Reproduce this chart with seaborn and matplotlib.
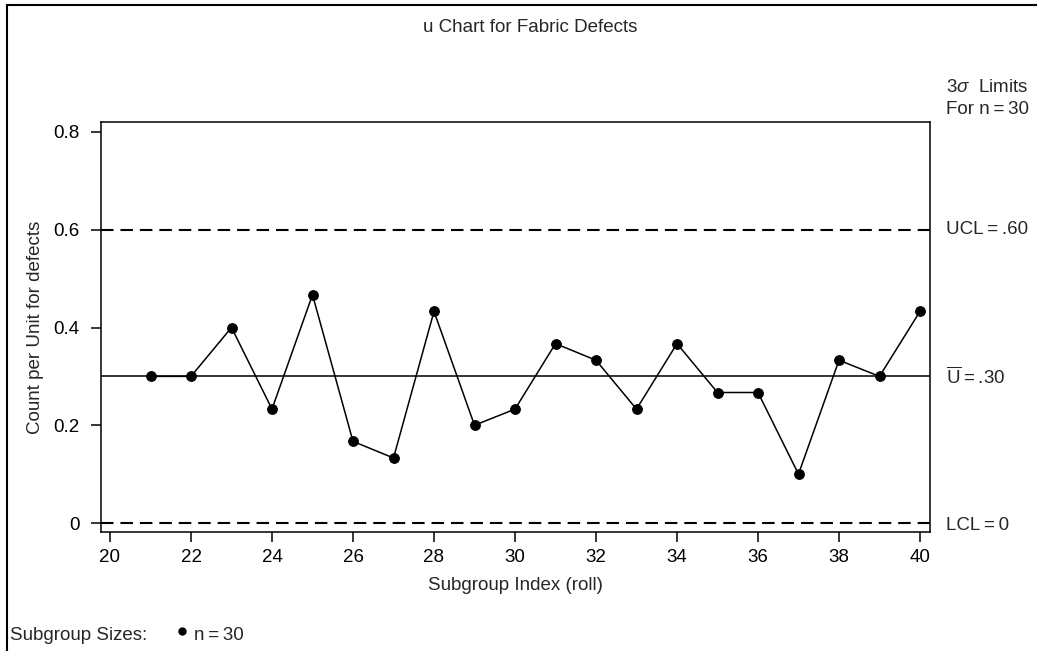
import matplotlib
matplotlib.use("Agg")
import matplotlib.pyplot as plt
from matplotlib.lines import Line2D
import seaborn as sns
import pandas as pd

# ---- data ----
subgroup = list(range(21, 41))
u_values = [0.300, 0.300, 0.400, 0.233, 0.467, 0.167, 0.133, 0.433, 0.200, 0.233,
            0.367, 0.333, 0.233, 0.367, 0.267, 0.267, 0.100, 0.333, 0.300, 0.433]
center = 0.30
ucl = 0.60
lcl = 0.0
x_ticks = list(range(20, 41, 2))
y_ticks = [0, 0.2, 0.4, 0.6, 0.8]
y_tick_labels = ["0", "0.2", "0.4", "0.6", "0.8"]

sns.set_style("ticks")
plt.rcParams['font.family'] = ['Liberation Sans', 'DejaVu Sans']
plt.rcParams['mathtext.fontset'] = 'custom'
plt.rcParams['mathtext.rm'] = 'Liberation Sans'
plt.rcParams['mathtext.it'] = 'Liberation Sans:italic'
plt.rcParams['lines.scale_dashes'] = False

W, H = 1037, 651
fig = plt.figure(figsize=(W / 100, H / 100), dpi=100)
ax = fig.add_axes([101 / W, 1 - 532 / H, (930 - 101) / W, (532 - 122) / H])

df = pd.DataFrame({"Subgroup": subgroup, "u": u_values})
sns.lineplot(data=df, x="Subgroup", y="u", ax=ax, color="black", lw=1.1,
             marker="o", markersize=7, markeredgecolor="black", zorder=3)

ax.axhline(center, color="black", lw=1.1, zorder=2)
for lim in (ucl, lcl):
    ax.axhline(lim, color="black", lw=1.5, ls=(0, (9, 5)), zorder=2)

ax.set_xlim(20 - 9 / 40.5, 40 + 10 / 40.5)
ax.set_ylim(-9 / 488.75, 0.8 + 10 / 488.75)
ax.set_xticks(x_ticks)
ax.set_yticks(y_ticks)
ax.set_yticklabels(y_tick_labels)
for s in ax.spines.values():
    s.set_visible(True)
    s.set_linewidth(1.1)
    s.set_color("black")
fs = 13.5
ax.tick_params(axis="both", direction="out", length=7.5, width=1.1, color="black",
               labelsize=fs, labelcolor="black")
ax.tick_params(axis="x", pad=5)
ax.tick_params(axis="y", pad=8)
ax.set_xlabel("")
ax.set_ylabel("")

th = "\u2009"
fig.text(530 / W, 1 - 27 / H, "u Chart for Fabric Defects", ha="center", va="center", fontsize=fs)
fig.text(515 / W, 1 - 585 / H, "Subgroup Index (roll)", ha="center", va="center", fontsize=fs)
fig.text(36 / W, 1 - 327 / H, "Count per Unit for defects", ha="center", va="center",
         rotation=90, fontsize=fs)

xr = 946 / W
fig.text(xr, 1 - 88 / H, r"3$\sigma$  Limits", ha="left", va="center", fontsize=fs)
fig.text(xr, 1 - 109 / H, f"For n{th}={th}30", ha="left", va="center", fontsize=fs)
fig.text(xr, 1 - 230 / H, f"UCL{th}={th}.60", ha="left", va="center", fontsize=fs)
fig.text(xr, 1 - 377 / H, r"$\overline{\mathrm{U}}$" + f"{th}={th}.30", ha="left", va="center", fontsize=fs)
fig.text(xr, 1 - 525 / H, f"LCL{th}={th}0", ha="left", va="center", fontsize=fs)

fig.text(10 / W, 1 - 635 / H, "Subgroup Sizes:", ha="left", va="center", fontsize=fs)
fig.add_artist(Line2D([182 / W], [1 - 631 / H], marker="o", markersize=5,
                      color="black", transform=fig.transFigure))
fig.text(194 / W, 1 - 635 / H, f"n{th}={th}30", ha="left", va="center", fontsize=fs)

# outer frame (top and left edges)
fig.add_artist(Line2D([7 / W, 1], [1 - 5 / H, 1 - 5 / H], color="black", lw=1.5,
                      transform=fig.transFigure))
fig.add_artist(Line2D([7 / W, 7 / W], [0, 1 - 5 / H], color="black", lw=1.5,
                      transform=fig.transFigure))

fig.savefig("out.png", dpi=100, facecolor="white")
